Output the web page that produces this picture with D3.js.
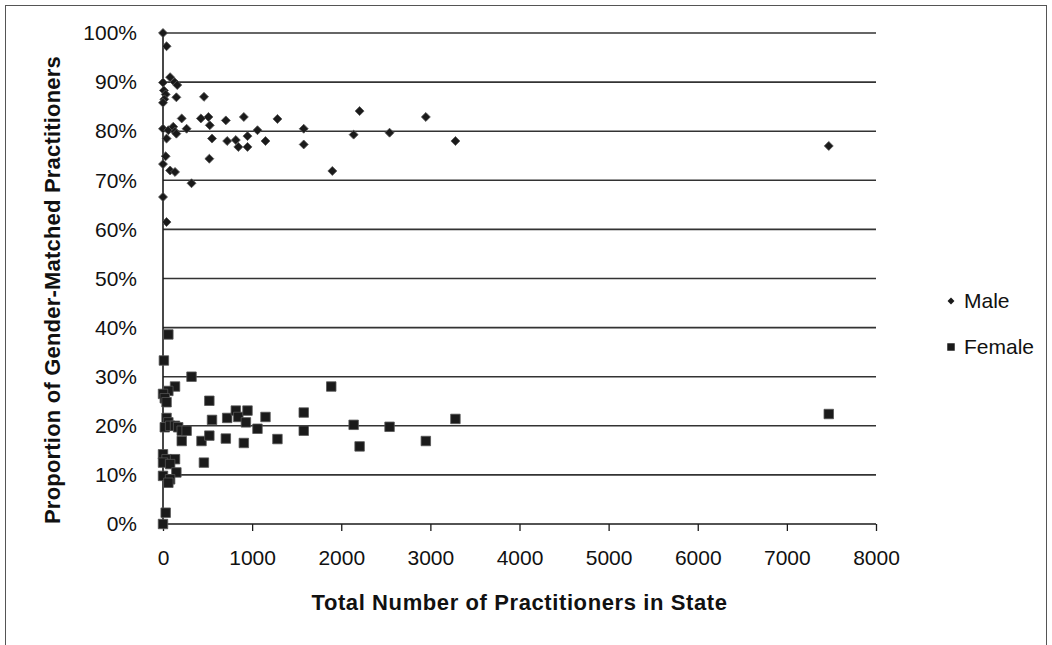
<!DOCTYPE html>
<html><head><meta charset="utf-8">
<script src="https://cdn.jsdelivr.net/npm/d3@7"></script>
<style>
body{margin:0;background:#fff;}
svg{display:block;font-family:"Liberation Sans",Arial,sans-serif;}
</style></head>
<body><svg id="c" width="1052" height="645"></svg>
<script>
// Male series: total practitioners in state, proportion (%)
const maleTotals = [0,40,80,0,130,160,10,30,15,0,150,460,210,425,510,525,705,907,1284,0,60,115,135,150,265,1060,1579,40,550,720,817,845,948,948,1150,1579,30,0,80,135,520,1900,320,0,40,2206,2139,2542,2949,3281,7470];
const maleShares = [100,97.3,91,89.9,90,89.4,88.3,87.5,86.5,85.8,86.9,87,82.6,82.6,82.9,81.2,82.2,82.9,82.5,80.5,80.2,80.9,79.9,79.5,80.5,80.2,80.5,78.5,78.5,78,78.2,76.8,79,76.8,78,77.3,74.9,73.3,72,71.7,74.4,71.9,69.4,66.6,61.5,84.1,79.3,79.7,82.9,78,77];
// Female series
const femaleTotals = [60,10,320,135,60,0,20,40,520,1888,40,60,20,80,135,170,210,265,210,550,720,817,845,948,930,1060,1150,1579,1579,432,520,705,907,1284,459,0,40,135,0,80,150,0,80,60,30,0,2139,2206,2542,2949,3281,7470];
const femaleShares = [38.6,33.3,30,28,27.1,26.5,25.6,24.8,25.1,28,21.6,20.7,19.7,20,20,19.7,19,19,16.9,21.2,21.6,23.1,21.8,23.1,20.7,19.4,21.8,22.7,19,16.9,18,17.4,16.5,17.3,12.5,14.2,13.2,13.2,12.5,12.2,10.5,9.8,9.1,8.4,2.3,0,20.2,15.8,19.8,16.9,21.4,22.4];
const xTicks = [0,1000,2000,3000,4000,5000,6000,7000,8000];
const yTicks = [0,10,20,30,40,50,60,70,80,90,100];
const seriesNames = ["Male","Female"];

const svg = d3.select("#c");
const L=163, R=876, T=33, B=524;
const x = d3.scaleLinear().domain([0,8000]).range([L,R]);
const y = d3.scaleLinear().domain([0,100]).range([B,T]);
const ink = "#1a1a1a";
const FS = 21;

// outer border
svg.append("rect").attr("x",5.5).attr("y",5.5).attr("width",1041).attr("height",660)
  .attr("fill","none").attr("stroke","#555").attr("stroke-width",1);

// gridlines
svg.append("g").selectAll("line").data(yTicks.filter(d=>d>0)).join("line")
  .attr("x1",L).attr("x2",R).attr("y1",d=>y(d)).attr("y2",d=>y(d))
  .attr("stroke","#333").attr("stroke-width",1.6);

// x axis
const xa = svg.append("g").attr("transform",`translate(0,${B})`)
  .call(d3.axisBottom(x).tickValues(xTicks).tickSize(7).tickPadding(19).tickFormat(d3.format("d")));
xa.select(".domain").attr("stroke",ink).attr("stroke-width",1.6).attr("d",`M${L},0H${R}`);
xa.selectAll(".tick line").attr("stroke",ink).attr("stroke-width",1.3);
xa.selectAll("text").attr("font-size",FS).attr("fill","#111").attr("font-family","Liberation Sans, Arial");

// y axis
const ya = svg.append("g").attr("transform",`translate(${L},0)`)
  .call(d3.axisLeft(y).tickValues(yTicks).tickSize(0).tickPadding(26).tickFormat(d=>d+"%"));
ya.select(".domain").attr("stroke",ink).attr("stroke-width",1.6).attr("d",`M0,${T}V${B}`);
ya.selectAll("text").attr("font-size",FS).attr("fill","#111").attr("font-family","Liberation Sans, Arial");

// points
const diamond = d3.symbol().type(d3.symbolSquare).size(40);
const square = d3.symbol().type(d3.symbolSquare).size(90);
svg.append("g").selectAll("path").data(maleTotals.map((t,i)=>[t,maleShares[i]])).join("path")
  .attr("d",diamond).attr("transform",d=>`translate(${x(d[0])},${y(d[1])}) rotate(45)`)
  .attr("fill",ink).attr("stroke","#555").attr("stroke-width",0.8);
svg.append("g").selectAll("path").data(femaleTotals.map((t,i)=>[t,femaleShares[i]])).join("path")
  .attr("d",square).attr("transform",d=>`translate(${x(d[0])},${y(d[1])})`)
  .attr("fill",ink).attr("stroke","#555").attr("stroke-width",0.8);

// axis titles
svg.append("text").attr("x",(L+R)/2).attr("y",610).attr("text-anchor","middle")
  .attr("font-size",22).attr("font-weight","bold").attr("fill","#111").attr("letter-spacing",0.6)
  .text("Total Number of Practitioners in State");
svg.append("text").attr("transform",`translate(60,290) rotate(-90)`).attr("text-anchor","middle")
  .attr("font-size",22).attr("font-weight","bold").attr("fill","#111").attr("letter-spacing",0.2)
  .text("Proportion of Gender-Matched Practitioners");

// legend
const lg = svg.append("g");
const ly = [301,347];
seriesNames.forEach((n,i)=>{
  lg.append("path").attr("d", i===0 ? d3.symbol().type(d3.symbolSquare).size(24)() : d3.symbol().type(d3.symbolSquare).size(56)())
    .attr("transform",`translate(951,${ly[i]})` + (i===0 ? " rotate(45)" : "")).attr("fill",ink);
  lg.append("text").attr("x",964).attr("y",ly[i]+7).attr("font-size",FS).attr("fill","#111").text(n);
});
</script></body></html>
